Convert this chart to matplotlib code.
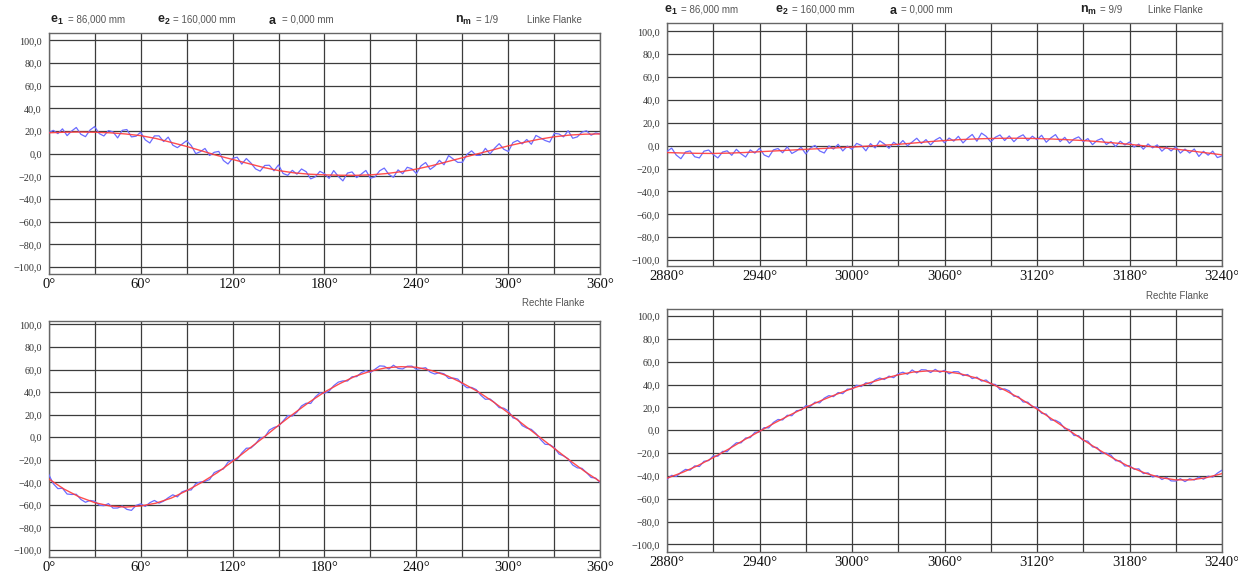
"""
Rundlauf-Diagramme: Linke und Rechte Flanke fuer n_m = 1/9 und n_m = 9/9.
"""

import numpy as np
import matplotlib
matplotlib.use("Agg")
import matplotlib.pyplot as plt

# Messwerte (blau, alle 3 Grad) und Ausgleichskurve (rot, alle 10 Grad)
red_links_1 = [18.5, 19.0, 19.2, 19.0, 18.5, 17.5, 16.0, 13.5, 10.0, 6.5,
               2.5, -1.5, -5.0, -8.5, -12.0, -14.8, -16.8, -18.0, -18.6, -18.9,
               -19.0, -18.6, -17.5, -15.8, -13.5, -10.5, -7.0, -3.5, 0.0, 3.5,
               7.0, 10.0, 12.8, 15.0, 16.5, 17.3, 17.5]

blue_links_1 = [18.5, 20.7, 17.8, 22.0, 16.0, 20.1, 23.2, 17.2, 15.1, 21.0,
                24.0, 17.8, 15.7, 20.5, 19.3, 14.0, 20.7, 21.4, 14.9, 15.5,
                19.0, 12.3, 9.5, 15.8, 15.8, 10.8, 14.7, 7.6, 5.4, 8.5,
                11.5, 7.3, 0.1, 1.9, 4.7, -1.5, 1.3, 2.1, -5.9, -9.0,
                -4.0, -3.0, -9.1, -4.2, -8.2, -13.3, -15.3, -10.3, -10.1, -15.0,
                -9.8, -17.4, -19.0, -14.6, -18.0, -13.4, -15.8, -22.1, -20.3, -15.5,
                -17.6, -21.7, -14.8, -19.9, -23.9, -17.0, -16.0, -21.0, -17.9, -14.7,
                -21.6, -20.3, -15.0, -12.6, -18.2, -20.7, -14.2, -17.6, -11.9, -13.2,
                -17.5, -10.6, -7.7, -13.8, -10.8, -5.8, -9.7, -1.6, -4.6, -7.6,
                -7.5, -0.5, 2.6, -1.4, -1.3, 4.8, -0.2, 4.9, 8.9, 4.0,
                2.0, 9.9, 11.8, 8.7, 12.6, 8.4, 16.2, 14.0, 11.7, 10.3,
                18.0, 17.5, 14.9, 20.4, 13.7, 14.9, 19.1, 20.3, 16.4, 18.4,
                17.5]

red_rechte_1 = [-37.0, -46.0, -53.0, -58.0, -61.0, -62.0, -61.0, -58.5, -54.0, -47.5,
                -40.0, -31.5, -21.5, -11.0, -0.5, 10.5, 21.0, 31.0, 40.0, 47.5,
                54.0, 58.5, 61.5, 62.5, 62.0, 59.0, 54.5, 48.0, 40.5, 31.5,
                21.5, 11.0, 0.5, -10.0, -20.5, -30.5, -39.5]

blue_rechte_1 = [-33.0, -41.3, -45.6, -45.3, -50.4, -50.8, -50.6, -55.2, -57.7, -56.1,
                 -56.8, -60.3, -60.7, -58.9, -62.9, -62.8, -61.0, -64.0, -64.9, -60.5,
                 -59.1, -61.4, -58.1, -56.1, -58.5, -56.7, -53.7, -51.1, -52.9, -48.5,
                 -47.0, -46.8, -41.1, -39.7, -39.2, -37.6, -31.4, -29.6, -28.2, -22.2,
                 -20.2, -19.6, -14.0, -9.8, -9.6, -5.9, -0.7, 0.1, 6.3, 8.6,
                 9.8, 14.4, 19.1, 18.7, 22.2, 27.7, 30.1, 29.9, 35.7, 39.3,
                 38.9, 40.8, 45.6, 48.8, 49.9, 49.8, 53.6, 53.7, 57.2, 59.1,
                 57.3, 60.3, 63.2, 62.9, 60.4, 63.8, 61.0, 60.5, 62.9, 63.0,
                 60.1, 60.9, 61.6, 57.6, 56.0, 57.2, 56.2, 52.1, 52.4, 51.5,
                 47.0, 43.8, 44.1, 42.2, 37.2, 33.6, 33.9, 30.6, 26.2, 25.7,
                 23.2, 17.1, 16.0, 10.3, 8.1, 6.9, 3.2, -2.1, -6.3, -6.6,
                 -9.3, -14.9, -16.6, -19.2, -24.7, -27.2, -27.6, -31.4, -35.7, -36.3,
                 -40.4]

red_links_9 = [-6.0, -6.4, -6.7, -6.8, -6.5, -6.0, -5.3, -4.6, -3.9, -3.2,
               -2.5, -1.9, -1.2, -0.4, 0.4, 1.2, 2.3, 3.5, 4.5, 5.3,
               5.9, 6.3, 6.5, 6.5, 6.2, 5.8, 5.2, 4.5, 3.5, 2.4,
               1.2, -0.2, -1.6, -3.0, -4.6, -6.3, -8.0]

blue_links_9 = [-5.0, -2.1, -8.2, -11.4, -5.5, -4.6, -9.7, -10.7, -4.8, -3.8,
                -7.8, -10.7, -5.6, -4.5, -8.4, -3.2, -7.1, -9.9, -3.7, -6.5,
                -2.3, -8.1, -9.9, -3.7, -2.5, -6.2, -1.0, -6.8, -4.6, -1.4,
                -7.2, -2.0, 0.2, -4.6, -6.4, -0.2, -3.0, 1.2, -4.6, -0.4,
                -3.2, 2.0, 0.3, -4.5, 1.8, -2.0, 4.2, 1.5, -2.3, 3.0,
                0.2, 4.5, -0.1, 3.2, 6.5, 1.9, 5.3, 0.6, 4.9, 7.2,
                2.5, 6.7, 4.0, 8.2, 2.4, 6.6, 9.8, 3.9, 11.0, 8.2,
                3.3, 7.4, 9.4, 4.5, 8.5, 3.5, 7.5, 9.5, 4.4, 8.3,
                5.2, 9.1, 3.0, 6.8, 9.7, 3.5, 7.3, 2.1, 5.9, 7.7,
                3.5, 6.2, 0.9, 4.6, 6.3, 1.0, 3.6, -0.7, 3.9, 0.6,
                3.2, -1.2, 1.4, -3.1, 1.5, -1.9, 0.7, -4.8, -1.2, -4.6,
                -1.0, -6.5, -3.0, -6.4, -2.9, -9.4, -4.9, -8.3, -4.8, -10.4,
                -9.0]

red_rechte_9 = [-42.0, -37.0, -31.0, -24.0, -16.5, -8.5, -1.0, 6.5, 13.5, 20.0,
                26.0, 31.5, 36.5, 41.0, 45.0, 48.5, 51.0, 52.0, 51.5, 49.5,
                46.0, 41.0, 34.5, 27.0, 18.5, 9.5, 0.5, -8.5, -17.0, -25.0,
                -32.0, -37.5, -41.5, -43.5, -43.5, -41.5, -38.0]

blue_rechte_9 = [-43.0, -39.5, -40.5, -37.0, -34.3, -35.0, -31.2, -31.8, -27.2, -26.6,
                 -22.5, -22.8, -18.5, -18.8, -14.4, -11.0, -11.1, -6.8, -6.5, -1.8,
                 -1.5, 2.3, 2.0, 6.8, 9.4, 9.0, 13.1, 12.7, 17.1, 17.6,
                 21.5, 20.8, 24.6, 23.9, 28.1, 30.3, 29.4, 33.0, 32.0, 36.0,
                 36.0, 39.4, 38.2, 41.6, 40.3, 44.0, 45.7, 44.4, 47.4, 46.0,
                 49.5, 50.8, 49.0, 52.8, 50.2, 53.0, 52.8, 50.5, 53.3, 50.7,
                 52.5, 49.4, 51.3, 51.2, 47.8, 48.8, 45.2, 46.5, 43.0, 44.0,
                 40.5, 40.1, 35.6, 36.2, 34.5, 29.8, 29.5, 24.7, 24.6, 20.6,
                 20.0, 14.8, 14.1, 8.9, 8.7, 6.5, 1.3, 0.6, -4.6, -4.8,
                 -9.0, -9.6, -14.6, -15.2, -20.1, -20.0, -21.9, -26.7, -26.8, -31.4,
                 -31.0, -34.2, -33.8, -38.0, -37.3, -41.0, -39.7, -43.2, -41.3, -44.4,
                 -44.5, -42.5, -45.0, -42.5, -43.6, -41.0, -42.9, -40.2, -41.1, -37.6,
                 -35.0]

start_1 = 0       # Winkelbereich Messung 1/9
start_9 = 2880    # Winkelbereich Messung 9/9
y_ticks = np.arange(-100, 101, 20)

W, H = 1238, 577

plt.rcParams['mathtext.fontset'] = 'custom'
plt.rcParams['mathtext.bf'] = 'Liberation Sans:bold'
plt.rcParams['mathtext.rm'] = 'Liberation Sans'


def px_rect(x0, x1, y0, y1):
    """Pixel box (von oben gemessen) -> figure coordinates."""
    return [x0 / W, 1 - y1 / H, (x1 - x0) / W, (y1 - y0) / H]


def fmt_y(v):
    s = "{:.1f}".format(abs(v)).replace(".", ",")
    return ("\u2212" + s) if v < 0 else s


def draw_panel(fig, rect, start, blue, red, ylim):
    """Draw one flank plot with grid, measured curve and fitted curve."""
    ax = fig.add_axes(rect)
    x_blue = np.linspace(start, start + 360, len(blue))
    x_red = np.linspace(start, start + 360, len(red))

    ax.plot(x_blue, blue, color='#6b6bff', lw=0.9, zorder=3)
    ax.plot(x_red, red, color='#ff3b3b', lw=1.0, alpha=0.9, zorder=4)

    ax.set_xlim(start, start + 360)
    ax.set_ylim(*ylim)

    ax.set_xticks(np.arange(start, start + 361, 60))
    ax.set_xticklabels(["{}\u00b0".format(v) for v in range(start, start + 361, 60)],
                       fontfamily='Liberation Serif', fontsize=10.5, color='#111111')
    ax.set_xticks(np.arange(start + 30, start + 360, 60), minor=True)
    ax.set_yticks(y_ticks)
    ax.set_yticklabels([fmt_y(v) for v in y_ticks],
                       fontfamily='Liberation Serif', fontsize=7.3, color='#333333')

    ax.tick_params(axis='both', which='both', length=0)
    ax.tick_params(axis='x', pad=3)
    ax.tick_params(axis='y', pad=5)
    ax.grid(True, which='both', color='#3c3c3c', lw=0.9)
    ax.set_axisbelow(True)
    for sp in ax.spines.values():
        sp.set_color('#666666')
        sp.set_linewidth(1.0)
    return ax


def header(fig, y, items):
    """Header line with bold symbols and grey values."""
    for xp, txt, bold in items:
        if bold:
            fig.text(xp / W, 1 - y / H, txt, fontsize=9, color='#222222',
                     va='center', ha='left')
        else:
            fig.text(xp / W, 1 - y / H, txt, fontsize=7, color='#555555',
                     fontfamily='Liberation Sans', va='center', ha='left')


fig = plt.figure(figsize=(W / 100, H / 100), dpi=100)

draw_panel(fig, px_rect(48.7, 600.3, 32.7, 274.3), start_1, blue_links_1, red_links_1, (-106.3, 106.8))
draw_panel(fig, px_rect(48.7, 600.3, 321.0, 557.3), start_1, blue_rechte_1, red_rechte_1, (-106.5, 103.0))
draw_panel(fig, px_rect(667.0, 1222.0, 23.3, 266.0), start_9, blue_links_9, red_links_9, (-105.2, 107.0))
draw_panel(fig, px_rect(667.0, 1222.0, 309.3, 551.7), start_9, blue_rechte_9, red_rechte_9, (-106.4, 105.9))

header(fig, 20, [
    (50, r'$\mathbf{e_1}$', True), (68, '= 86,000 mm', False),
    (157, r'$\mathbf{e_2}$', True), (173, '= 160,000 mm', False),
    (268, r'$\mathbf{a}$', True), (282, '= 0,000 mm', False),
    (455, r'$\mathbf{n_m}$', True), (476, '= 1/9', False),
    (527, 'Linke Flanke', False)])
header(fig, 10, [
    (664, r'$\mathbf{e_1}$', True), (681, '= 86,000 mm', False),
    (775, r'$\mathbf{e_2}$', True), (792, '= 160,000 mm', False),
    (889, r'$\mathbf{a}$', True), (901, '= 0,000 mm', False),
    (1080, r'$\mathbf{n_m}$', True), (1100, '= 9/9', False),
    (1148, 'Linke Flanke', False)])

fig.text(584 / W, 1 - 303 / H, 'Rechte Flanke', fontsize=7, color='#555555',
         fontfamily='Liberation Sans', va='center', ha='right')
fig.text(1208 / W, 1 - 296 / H, 'Rechte Flanke', fontsize=7, color='#555555',
         fontfamily='Liberation Sans', va='center', ha='right')

fig.savefig('out.png', dpi=100, facecolor='white')
